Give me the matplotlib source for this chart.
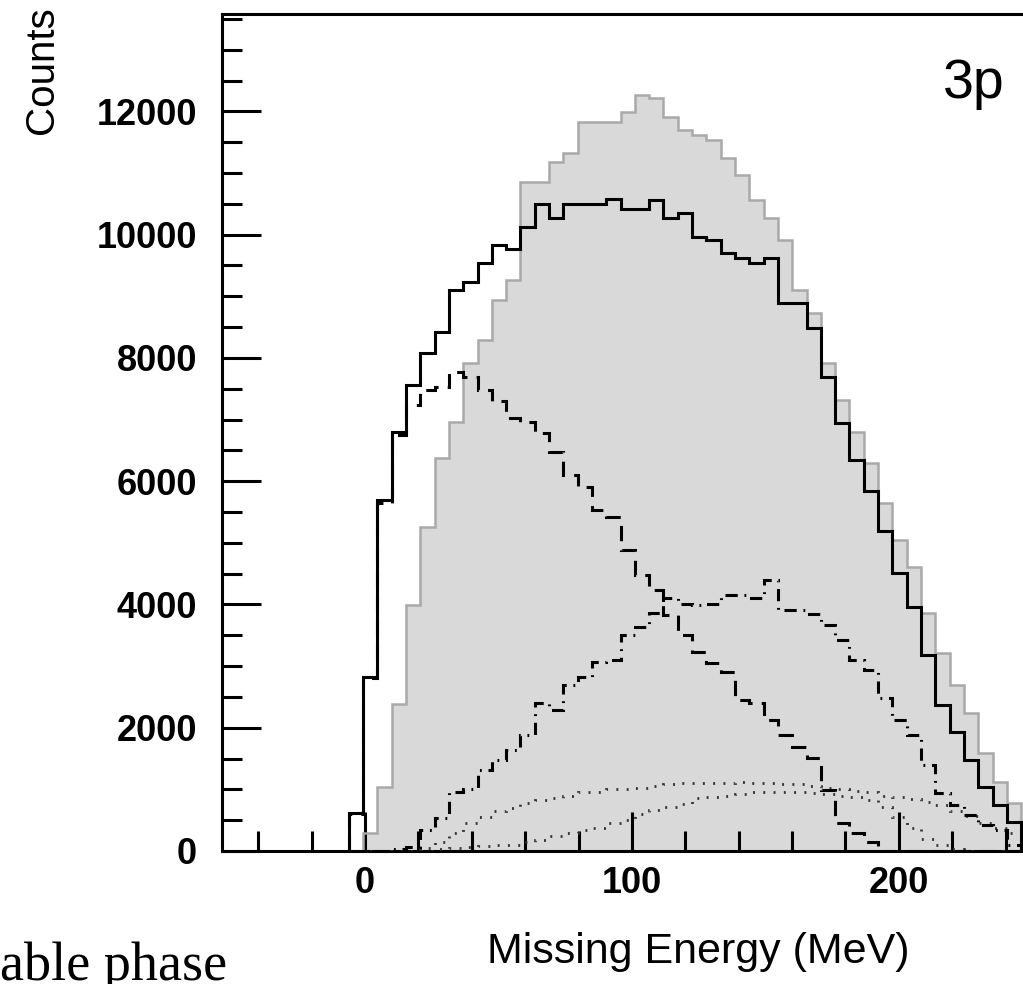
import numpy as np
import matplotlib
matplotlib.use('Agg')
import matplotlib.pyplot as plt
from matplotlib.ticker import MultipleLocator

plt.rcParams['font.family'] = ['Liberation Sans', 'DejaVu Sans']

# binning of the histograms (MeV): 47 bins of ~5.36 MeV, first one just below zero
bin_width = 5.36
first_edge = -6.11
n_bins = 47
edges = first_edge + bin_width * np.arange(n_bins + 1)

# grey filled histogram
grey = [0, 300, 1038, 2384, 3990, 5255, 6374, 6958, 7915, 8288,
        8940, 9261, 10851, 10851, 11176, 11322, 11825, 11825, 11825, 11987,
        12262, 12213, 11906, 11695, 11614, 11533, 11241, 10965, 10559, 10267,
        9910, 9100, 8726, 7915, 7315, 6796, 6293, 5644, 5044, 4606,
        3860, 3212, 2693, 2238, 1590, 1119, 778]

# solid black histogram
total = [616, 2822, 5693, 6796, 7558, 8077, 8418, 9100, 9230, 9537,
         9829, 9764, 10121, 10494, 10267, 10494, 10494, 10494, 10575, 10413,
         10413, 10559, 10267, 10348, 9959, 9910, 9700, 9619, 9537, 9619,
         8889, 8889, 8483, 7688, 6942, 6342, 5839, 5190, 4509, 3958,
         3179, 2368, 1930, 1476, 1038, 746, 470]

# dashed, low energy component
dash_low = [600, 2800, 5650, 6750, 7234, 7477, 7526, 7769, 7688, 7477,
            7300, 7023, 6958, 6780, 6472, 6099, 5904, 5531, 5418, 4882,
            4477, 4233, 3828, 3503, 3228, 3049, 2903, 2449, 2400, 2125,
            1880, 1687, 1508, 990, 450, 300, 146, 0, 0, 0,
            0, 0, 0, 0, 0, 0, 0]

# dash-dot, high energy component
dash_high = [0, 0, 0, 40, 60, 340, 535, 957, 1000, 1314,
             1476, 1638, 1881, 2400, 2287, 2693, 2822, 3066, 3098, 3503,
             3633, 3860, 4100, 4000, 3990, 4000, 4150, 4150, 4100, 4396,
             3909, 3909, 3850, 3665, 3422, 3098, 2936, 2482, 2125, 1881,
             1395, 941, 746, 584, 422, 340, 100]

# dotted components
dot_a = [0, 0, 0, 0, 0, 50, 150, 300, 450, 550,
         650, 700, 780, 830, 860, 900, 950, 960, 1000, 1000,
         1020, 1050, 1080, 1100, 1100, 1110, 1100, 1120, 1100, 1100,
         1090, 1080, 1050, 1020, 1000, 980, 950, 900, 880, 850,
         800, 740, 650, 560, 460, 380, 290]

dot_b = [0, 0, 0, 0, 0, 0, 30, 50, 60, 80,
         90, 100, 150, 180, 240, 290, 340, 380, 450, 500,
         600, 660, 720, 760, 860, 880, 900, 920, 950, 960,
         960, 950, 940, 920, 900, 880, 830, 720, 550, 380,
         200, 100, 40, 0, 0, 0, 0]

fig = plt.figure(figsize=(10.23, 9.84), dpi=100)
# right edge of the frame lies outside the picture, as in the cropped original
ax = fig.add_axes([222 / 1023, 1 - 851 / 984, (1059 - 222) / 1023, (851 - 14) / 984])

ax.stairs(grey, edges, fill=True, color='#d9d9d9', zorder=1)
ax.stairs(grey, edges, color='#a9a9a9', lw=1.8, zorder=2)
ax.stairs(dot_a, edges, color='#333333', lw=2, ls=(0, (0.7, 3.0)), zorder=3)
ax.stairs(dot_b, edges, color='#333333', lw=2, ls=(0, (0.7, 3.0)), zorder=3)
ax.stairs(dash_high, edges, color='black', lw=2.2, ls=(0, (4, 2.2, 0.6, 2.2)), zorder=4)
ax.stairs(dash_low, edges, color='black', lw=2.2, ls=(0, (5, 3)), zorder=4)
ax.stairs(total, edges, color='black', lw=2.2, zorder=5)

ax.set_xlim(-53.6, 260)
ax.set_ylim(0, 13580)

ax.xaxis.set_major_locator(MultipleLocator(100))
ax.xaxis.set_minor_locator(MultipleLocator(20))
ax.yaxis.set_major_locator(MultipleLocator(2000))
ax.yaxis.set_minor_locator(MultipleLocator(500))

ax.tick_params(which='both', direction='in', width=2.2, top=False, right=False)
ax.tick_params(which='major', length=28)
ax.tick_params(which='minor', length=14.4)
ax.tick_params(axis='y', which='major', pad=18, labelsize=26)
ax.tick_params(axis='x', which='major', pad=11, labelsize=26)
for lab in ax.get_xticklabels() + ax.get_yticklabels():
    lab.set_fontweight('bold')

for s in ax.spines.values():
    s.set_linewidth(2.2)
ax.spines['right'].set_visible(False)

fig.text(698 / 1023, 1 - 963 / 984, 'Missing Energy (MeV)', ha='center',
         va='baseline', fontsize=31)
fig.text(42 / 1023, 1 - 70 / 984, 'Counts', rotation=90, ha='center',
         va='center', fontsize=29)
fig.text(943 / 1023, 1 - 98 / 984, '3p', fontsize=40, va='baseline')
fig.text(0, 1 - 980 / 984, 'able phase', fontsize=39, va='baseline',
         family=['Liberation Serif', 'DejaVu Serif'])

fig.savefig('out.png', dpi=100)
